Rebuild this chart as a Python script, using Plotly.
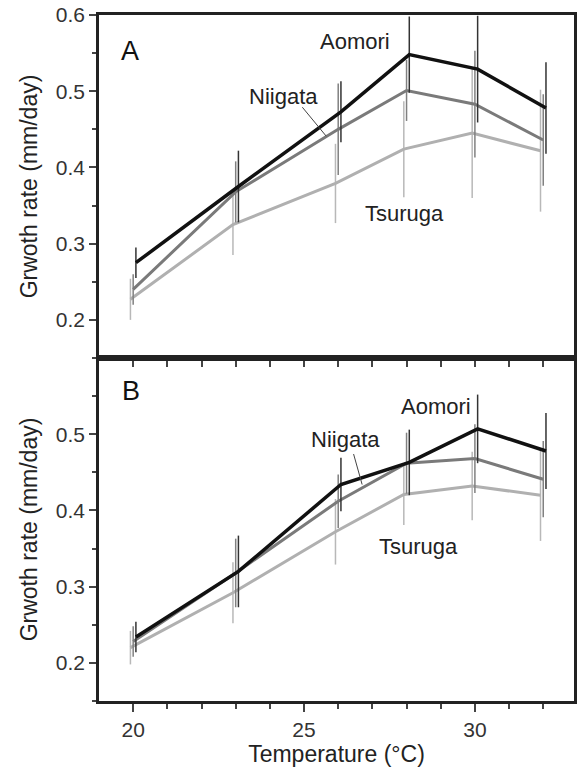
import plotly.graph_objects as go

# ---------------- data ----------------
temps = [20, 23, 26, 28, 30, 32]

# Panel A
A_aomori = [0.275, 0.375, 0.473, 0.548, 0.529, 0.478]
A_aomori_err = [0.020, 0.047, 0.040, 0.050, 0.070, 0.060]
A_niigata = [0.240, 0.368, 0.450, 0.501, 0.483, 0.436]
A_niigata_err = [0.020, 0.040, 0.060, 0.040, 0.070, 0.060]
A_tsuruga = [0.227, 0.325, 0.379, 0.424, 0.445, 0.422]
A_tsuruga_err = [0.027, 0.040, 0.052, 0.063, 0.085, 0.080]

# Panel B
B_aomori = [0.234, 0.320, 0.434, 0.463, 0.507, 0.478]
B_aomori_err = [0.020, 0.047, 0.035, 0.043, 0.045, 0.050]
B_niigata = [0.228, 0.318, 0.412, 0.462, 0.468, 0.441]
B_niigata_err = [0.020, 0.045, 0.035, 0.040, 0.045, 0.050]
B_tsuruga = [0.220, 0.292, 0.372, 0.421, 0.432, 0.420]
B_tsuruga_err = [0.022, 0.040, 0.043, 0.040, 0.045, 0.060]

series_names = ["Tsuruga", "Niigata", "Aomori"]
x_offsets = [-0.08, 0.0, 0.08]
line_colors = ["#b0b0b0", "#7a7a7a", "#111111"]
bar_colors = ["#b8b8b8", "#808080", "#333333"]
line_widths = [3, 3, 3.5]

y_ticks_A = [0.2, 0.3, 0.4, 0.5, 0.6]
y_ticks_B = [0.2, 0.3, 0.4, 0.5]
x_ticks = [20, 25, 30]

# label text positions (data coords): name, x, y
labels_A = [("Aomori", 26.5, 0.565), ("Niigata", 24.4, 0.493), ("Tsuruga", 27.95, 0.339)]
labels_B = [("Aomori", 28.85, 0.537), ("Niigata", 26.2, 0.493), ("Tsuruga", 28.35, 0.353)]
leader_A = [(24.95, 0.479), (25.65, 0.441)]
leader_B = [(26.45, 0.474), (26.7, 0.434)]
panel_letters = [("A", 19.9, 0.553), ("B", 19.95, 0.557)]

FONT = "Liberation Sans, Arial, sans-serif"

fig = go.Figure()

panels = [
    ("x", "y", [A_tsuruga, A_niigata, A_aomori], [A_tsuruga_err, A_niigata_err, A_aomori_err]),
    ("x2", "y2", [B_tsuruga, B_niigata, B_aomori], [B_tsuruga_err, B_niigata_err, B_aomori_err]),
]
for xa, ya, vals, errs in panels:
    for i in range(3):
        fig.add_trace(go.Scatter(
            x=[t + x_offsets[i] for t in temps], y=vals[i],
            mode="lines", name=series_names[i], showlegend=False,
            line=dict(color=line_colors[i], width=line_widths[i]),
            error_y=dict(type="data", array=errs[i], visible=True,
                         color=bar_colors[i], thickness=1.5, width=0),
            xaxis=xa, yaxis=ya))

axis_common = dict(showline=True, linecolor="#222222", linewidth=2.5, mirror=True,
                   showgrid=False, zeroline=False, ticks="outside",
                   tickcolor="#444444", tickwidth=1.5,
                   tickfont=dict(family=FONT, size=21, color="#333333"))

xr = [19.0, 32.9]
yr = [0.15, 0.6]

fig.update_layout(
    width=579, height=769,
    margin=dict(l=99, r=2, t=15, b=68),
    paper_bgcolor="white", plot_bgcolor="white",
    font=dict(family=FONT, color="#222222"),
    xaxis=dict(**axis_common, range=xr, anchor="y", domain=[0, 1],
               tickvals=list(range(20, 33)), ticklen=6, showticklabels=False),
    xaxis2=dict(**axis_common, range=xr, anchor="y2", domain=[0, 1],
                tickvals=x_ticks, ticklen=8,
                minor=dict(tickvals=list(range(20, 33)), ticklen=5, ticks="outside",
                           tickcolor="#444444", tickwidth=1.5),
                title=dict(text="Temperature (°C)", font=dict(family=FONT, size=23, color="#222222"),
                           standoff=5)),
    yaxis=dict(**axis_common, range=yr, anchor="x", domain=[0.5, 1],
               tickvals=y_ticks_A, ticklen=7, tickformat=".1f",
               minor=dict(dtick=0.05, tick0=0, ticklen=4, ticks="outside",
                          tickcolor="#444444", tickwidth=1.5),
               title=dict(text="Grwoth rate (mm/day)", font=dict(family=FONT, size=23, color="#222222"),
                          standoff=12)),
    yaxis2=dict(**axis_common, range=yr, anchor="x2", domain=[0, 0.5],
                tickvals=y_ticks_B, ticklen=7, tickformat=".1f",
                minor=dict(dtick=0.05, tick0=0, ticklen=4, ticks="outside",
                           tickcolor="#444444", tickwidth=1.5),
                title=dict(text="Grwoth rate (mm/day)", font=dict(family=FONT, size=23, color="#222222"),
                           standoff=12)),
)

for (labels, xa, ya) in [(labels_A, "x", "y"), (labels_B, "x2", "y2")]:
    for name, lx, ly in labels:
        fig.add_annotation(x=lx, y=ly, xref=xa, yref=ya, text=name, showarrow=False,
                           font=dict(family=FONT, size=22, color="#222222"))

for (pts, xa, ya) in [(leader_A, "x", "y"), (leader_B, "x2", "y2")]:
    fig.add_shape(type="line", xref=xa, yref=ya,
                  x0=pts[0][0], y0=pts[0][1], x1=pts[1][0], y1=pts[1][1],
                  line=dict(color="#444444", width=1))

for (letter, lx, ly), xa, ya in zip(panel_letters, ["x", "x2"], ["y", "y2"]):
    fig.add_annotation(x=lx, y=ly, xref=xa, yref=ya, text=letter, showarrow=False,
                       font=dict(family=FONT, size=27, color="#111111"))

fig.write_html("out.html")
